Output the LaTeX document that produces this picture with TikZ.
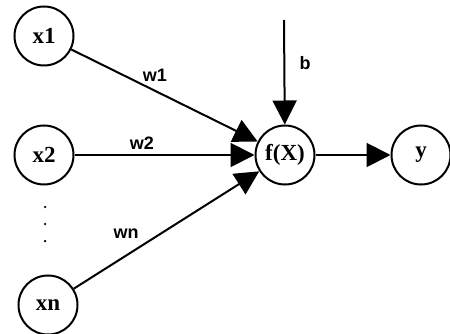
\documentclass[tikz,border=0pt]{standalone}
\usepackage{fontspec}
\setmainfont{Liberation Serif}
\newfontfamily\labfont{Liberation Sans}
\usetikzlibrary{arrows.meta}
\begin{document}
\begin{tikzpicture}[x=1pt,y=-1pt,
  neuron/.style={draw,circle,line width=2pt,minimum size=59pt,inner sep=0pt,font=\fontsize{23}{25}\selectfont\bfseries},
  conn/.style={line width=2pt,-{Triangle[length=24pt,width=24pt]}},
  lab/.style={font=\labfont\fontsize{18}{20}\selectfont\bfseries},
  dot/.style={circle,fill,inner sep=0pt,minimum size=2.5pt}]
\useasboundingbox (0,0) rectangle (450,334);
\node[neuron] (x1) at (44,36) {x1};
\node[neuron] (x2) at (44,155) {x2};
\node[neuron] (xn) at (48,305) {xn};
\node[neuron] (f) at (285,155) {f(X)};
\node[neuron] (y) at (421,155) {y};
\coordinate (b) at (284,20);
\node[dot] (d1) at (45,207) {};
\node[dot] (d2) at (45,224) {};
\node[dot] (d3) at (45,241) {};
\draw[conn] (x1) -- (f);
\draw[conn] (x2) -- (f);
\draw[conn] (xn) -- (f);
\draw[conn] (b) -- (f);
\draw[conn] (f) -- (y);
\node[lab] (w1) at (155,75) {w1};
\node[lab] (w2) at (142,143) {w2};
\node[lab] (wn) at (126,234) {wn};
\node[lab] (bl) at (305,63) {b};
\end{tikzpicture}
\end{document}
